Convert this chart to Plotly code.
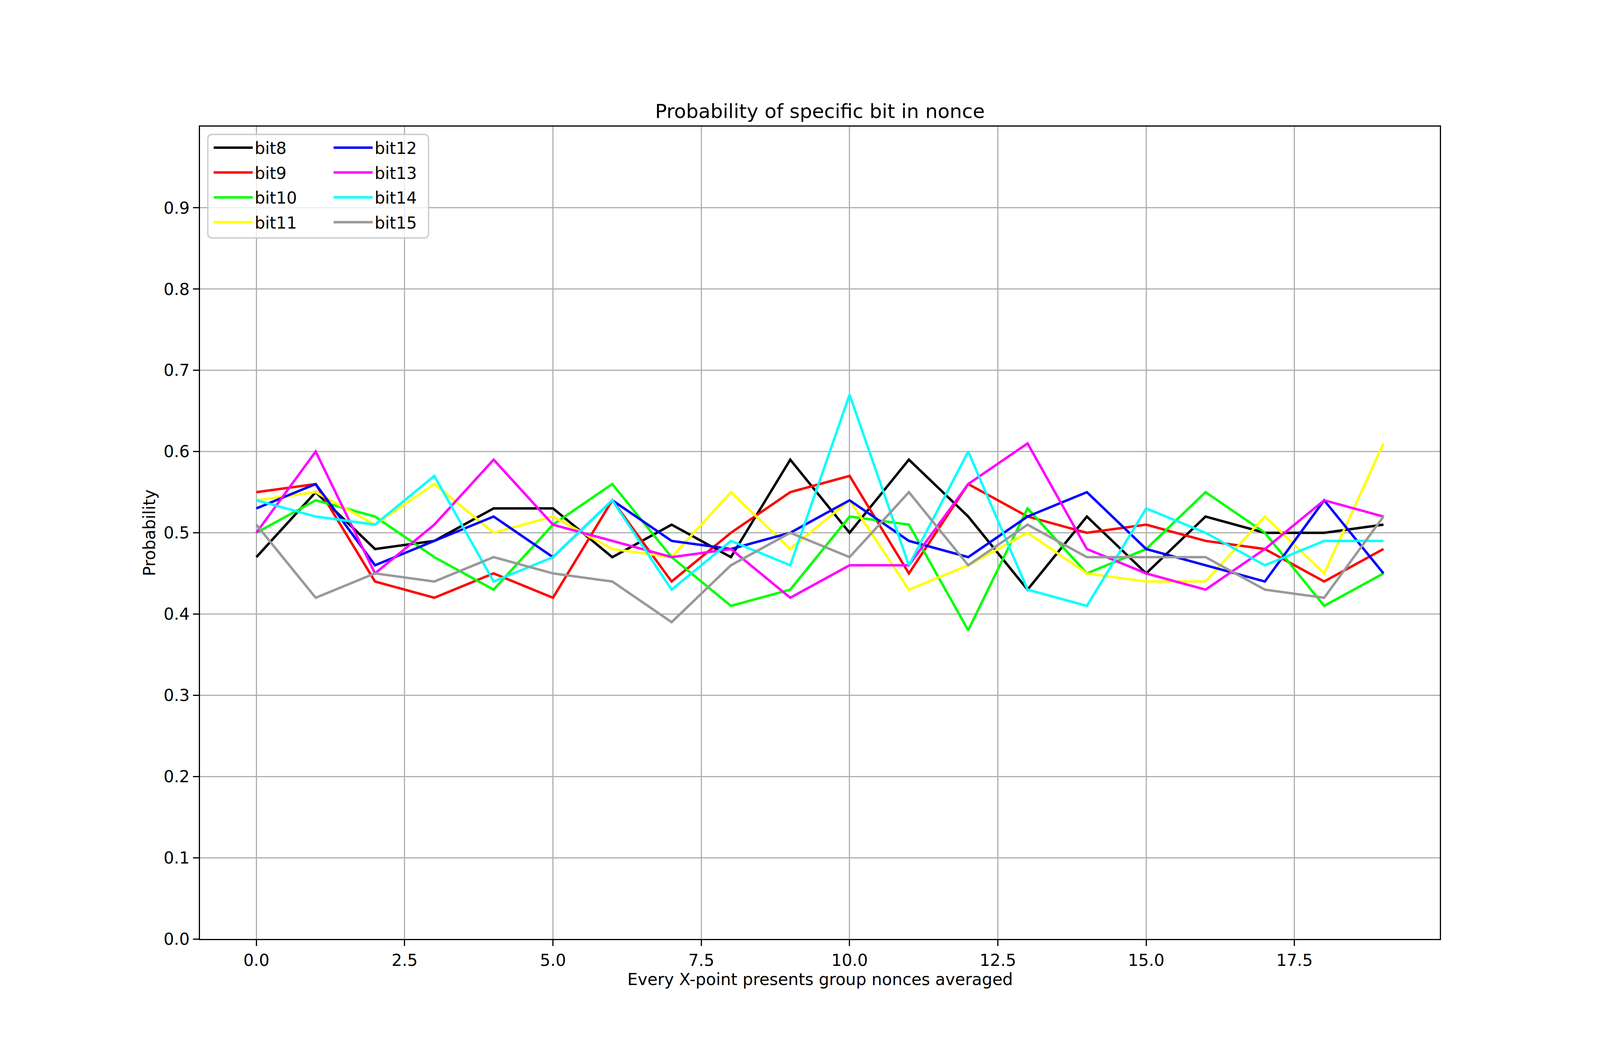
import plotly.graph_objects as go

x_points = list(range(20))

bit8 = [0.47, 0.55, 0.48, 0.49, 0.53, 0.53, 0.47, 0.51, 0.47, 0.59, 0.50, 0.59, 0.52, 0.43, 0.52, 0.45, 0.52, 0.50, 0.50, 0.51]
bit9 = [0.55, 0.56, 0.44, 0.42, 0.45, 0.42, 0.54, 0.44, 0.50, 0.55, 0.57, 0.45, 0.56, 0.52, 0.50, 0.51, 0.49, 0.48, 0.44, 0.48]
bit10 = [0.50, 0.54, 0.52, 0.47, 0.43, 0.51, 0.56, 0.47, 0.41, 0.43, 0.52, 0.51, 0.38, 0.53, 0.45, 0.48, 0.55, 0.50, 0.41, 0.45]
bit11 = [0.54, 0.55, 0.51, 0.56, 0.50, 0.52, 0.48, 0.47, 0.55, 0.48, 0.54, 0.43, 0.46, 0.50, 0.45, 0.44, 0.44, 0.52, 0.45, 0.61]
bit12 = [0.53, 0.56, 0.46, 0.49, 0.52, 0.47, 0.54, 0.49, 0.48, 0.50, 0.54, 0.49, 0.47, 0.52, 0.55, 0.48, 0.46, 0.44, 0.54, 0.45]
bit13 = [0.50, 0.60, 0.45, 0.51, 0.59, 0.51, 0.49, 0.47, 0.48, 0.42, 0.46, 0.46, 0.56, 0.61, 0.48, 0.45, 0.43, 0.48, 0.54, 0.52]
bit14 = [0.54, 0.52, 0.51, 0.57, 0.44, 0.47, 0.54, 0.43, 0.49, 0.46, 0.67, 0.46, 0.60, 0.43, 0.41, 0.53, 0.50, 0.46, 0.49, 0.49]
bit15 = [0.51, 0.42, 0.45, 0.44, 0.47, 0.45, 0.44, 0.39, 0.46, 0.50, 0.47, 0.55, 0.46, 0.51, 0.47, 0.47, 0.47, 0.43, 0.42, 0.52]

series_names = ["bit8", "bit9", "bit10", "bit11", "bit12", "bit13", "bit14", "bit15"]
series_values = [bit8, bit9, bit10, bit11, bit12, bit13, bit14, bit15]
series_colors = ["#000000", "#ff0000", "#00ff00", "#ffff00", "#0000ff", "#ff00ff", "#00ffff", "#999999"]

x_ticks = [0.0, 2.5, 5.0, 7.5, 10.0, 12.5, 15.0, 17.5]
y_ticks = [0.0, 0.1, 0.2, 0.3, 0.4, 0.5, 0.6, 0.7, 0.8, 0.9]

title_text = "Probability of specific bit in nonce"
x_label = "Every X-point presents group nonces averaged"
y_label = "Probability"

# The browser viewport in the sandbox is 4096 x 2700 CSS px.
W, H = 4096, 2700
L, R = round(0.125 * W), round(0.9 * W)
T, B = 324, 2403
PW, PH = R - L, B - T

def px_x(p):
    return (p - L) / PW

def px_y(p):
    return (B - p) / PH

FONT = "DejaVu Sans"

fig = go.Figure()
for i, (name, vals, col) in enumerate(zip(series_names, series_values, series_colors)):
    fig.add_trace(go.Scatter(
        x=x_points, y=vals, mode="lines", name=name,
        line=dict(color=col, width=6.25),
        legend="legend" if i < 4 else "legend2",
        legendgroup=name,
    ))

axis_common = dict(
    showline=True, linecolor="black", linewidth=3.3, mirror=True,
    ticks="outside", ticklen=15, tickwidth=3.3, tickcolor="black",
    showgrid=True, gridcolor="#b0b0b0", gridwidth=3.3,
    zeroline=False,
    tickfont=dict(family=FONT, size=42, color="black"),
)

fig.update_xaxes(range=[-0.95, 19.95], tickvals=x_ticks,
                 ticktext=[f"{v:.1f}" for v in x_ticks], **axis_common)
fig.update_yaxes(range=[0, 1.0], tickvals=y_ticks,
                 ticktext=[f"{v:.1f}" for v in y_ticks], **axis_common)

# legend frame (rounded rectangle) placed like matplotlib's upper-left legend
FL = L + 20
FR = FL + 565
FT, FB = 344, 609
fx0, fx1 = px_x(FL), px_x(FR)
fy0, fy1 = px_y(FB), px_y(FT)
rx, ry = 12 / PW, 12 / PH
path = (f"M{fx0+rx},{fy1} L{fx1-rx},{fy1} Q{fx1},{fy1} {fx1},{fy1-ry} "
        f"L{fx1},{fy0+ry} Q{fx1},{fy0} {fx1-rx},{fy0} "
        f"L{fx0+rx},{fy0} Q{fx0},{fy0} {fx0},{fy0+ry} "
        f"L{fx0},{fy1-ry} Q{fx0},{fy1} {fx0+rx},{fy1} Z")

legend_common = dict(
    bgcolor="rgba(0,0,0,0)", borderwidth=0,
    font=dict(family=FONT, size=42, color="black"),
    xanchor="left", yanchor="top", itemwidth=100,
    tracegroupgap=6, traceorder="grouped",
)

fig.update_layout(
    width=W, height=H,
    margin=dict(l=L, r=W - R, t=T, b=H - B, pad=0),
    paper_bgcolor="white", plot_bgcolor="white",
    showlegend=True,
    legend=dict(x=px_x(FL + 10), y=px_y(FT), **legend_common),
    legend2=dict(x=px_x(FL + 317), y=px_y(FT), **legend_common),
    shapes=[dict(type="path", path=path, xref="paper", yref="paper",
                 fillcolor="rgba(255,255,255,0.8)",
                 line=dict(color="#cccccc", width=3.3), layer="above")],
    annotations=[
        dict(text=title_text, xref="paper", yref="paper", x=0.5, y=px_y(285),
             xanchor="center", yanchor="middle", showarrow=False,
             font=dict(family=FONT, size=50, color="black")),
        dict(text=x_label, xref="paper", yref="paper", x=0.5, y=px_y(2506),
             xanchor="center", yanchor="middle", showarrow=False,
             font=dict(family=FONT, size=42, color="black")),
        dict(text=y_label, xref="paper", yref="paper", x=px_x(L - 130), y=0.5,
             xanchor="center", yanchor="middle", showarrow=False, textangle=-90,
             font=dict(family=FONT, size=42, color="black")),
    ],
)

post_js = "document.body.style.margin = '0'; document.body.style.overflow = 'hidden';"

fig.write_html("out.html", post_script=post_js, config={"displayModeBar": False})
